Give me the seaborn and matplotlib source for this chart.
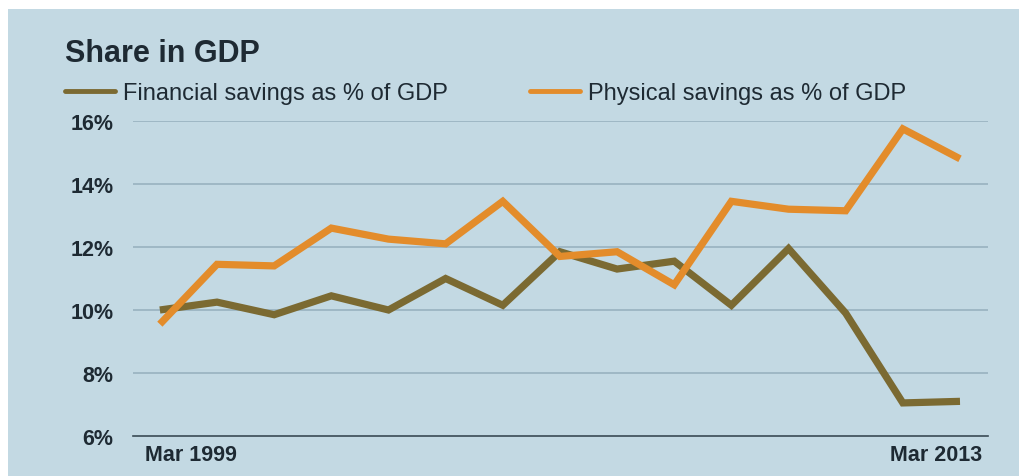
import matplotlib
matplotlib.use("Agg")
import matplotlib.pyplot as plt
import matplotlib.transforms as mtransforms
from matplotlib.patches import Rectangle
from matplotlib.lines import Line2D
import seaborn as sns
import pandas as pd

# Savings as share of GDP, fiscal years ending March
periods = [f"Mar {y}" for y in range(1999, 2014)]
financial = [10.0, 10.25, 9.85, 10.45, 10.0, 11.0, 10.15, 11.85, 11.3, 11.55,
             10.15, 11.95, 9.9, 7.05, 7.1]
physical = [9.55, 11.45, 11.4, 12.6, 12.25, 12.1, 13.45, 11.7, 11.85, 10.8,
            13.45, 13.2, 13.15, 15.75, 14.8]
series_names = ["Financial savings as % of GDP", "Physical savings as % of GDP"]
yticks = [6, 8, 10, 12, 14, 16]
xtick_labels = ["Mar 1999"] + [""] * 13 + ["Mar 2013"]

df = pd.DataFrame({"idx": list(range(len(periods))) * 2,
                   "value": financial + physical,
                   "series": [series_names[0]] * len(periods) + [series_names[1]] * len(periods)})

sns.set_theme(style="white")
plt.rcParams["font.family"] = ["Liberation Sans", "DejaVu Sans"]

PANEL = "#c3d9e3"
OLIVE = "#7b6a32"
ORANGE = "#e38c2b"
TEXT = "#1e2a33"

fig = plt.figure(figsize=(10.26, 4.77), dpi=100)
fig.patch.set_facecolor("white")
fig.patches.append(Rectangle((8 / 1026, 0), 1011 / 1026, 1 - 10 / 477,
                             transform=fig.transFigure, facecolor=PANEL,
                             edgecolor="none", zorder=-10))

ax = fig.add_axes([133 / 1026, 1 - 437 / 477, 855 / 1026, 315 / 477])
ax.set_zorder(5)
ax.set_facecolor("none")

sns.lineplot(data=df, x="idx", y="value", hue="series",
             palette=[OLIVE, ORANGE], linewidth=5.2, ax=ax, legend=False,
             clip_on=False, zorder=3)
for ln in ax.get_lines():
    ln.set_solid_joinstyle("miter")
    ln.set_solid_capstyle("butt")

ax.set_xlim(-0.47, 14.49)
ax.set_ylim(6, 16)
ax.set_yticks(yticks)
ax.set_yticklabels([f"{v}%" for v in yticks])
ax.set_xticks(range(len(periods)))
ax.set_xticklabels(xtick_labels)
ax.set_xlabel("")
ax.set_ylabel("")

for y in yticks[1:]:
    ax.axhline(y, color="#98b2c0", linewidth=1.2, zorder=1)

for s in ["top", "right", "left"]:
    ax.spines[s].set_visible(False)
ax.spines["bottom"].set_color("#3a4b55")
ax.spines["bottom"].set_linewidth(1.2)

ax.tick_params(axis="y", length=0, pad=14, labelsize=15.5, labelcolor=TEXT)
ax.tick_params(axis="x", direction="in", length=3, color="#eef4f7", width=1,
               pad=6, labelsize=15.5, labelcolor=TEXT)
for t in ax.get_yticklabels():
    t.set_fontweight("bold")
xl = ax.get_xticklabels()
xl[0].set_ha("left")
xl[0].set_transform(xl[0].get_transform() + mtransforms.ScaledTranslation(-15 / 100, 0, fig.dpi_scale_trans))
xl[-1].set_ha("right")
xl[-1].set_transform(xl[-1].get_transform() + mtransforms.ScaledTranslation(22 / 100, 0, fig.dpi_scale_trans))
for t in xl:
    t.set_fontweight("bold")

fig.text(65 / 1026, 1 - 62 / 477, "Share in GDP", fontsize=22, fontweight="bold",
         color=TEXT, va="baseline", ha="left")

handles = [Line2D([], [], color=OLIVE, linewidth=3.5),
           Line2D([], [], color=ORANGE, linewidth=3.5)]
leg = fig.legend(handles, series_names, loc="upper left", ncol=2,
                 bbox_to_anchor=(65 / 1026, 1 - 83 / 477), frameon=False,
                 fontsize=17, handlelength=2.1, handletextpad=0.35,
                 columnspacing=3.5, borderaxespad=0, borderpad=0)
for t in leg.get_texts():
    t.set_color(TEXT)

fig.savefig("out.png", dpi=100, facecolor=fig.get_facecolor())
